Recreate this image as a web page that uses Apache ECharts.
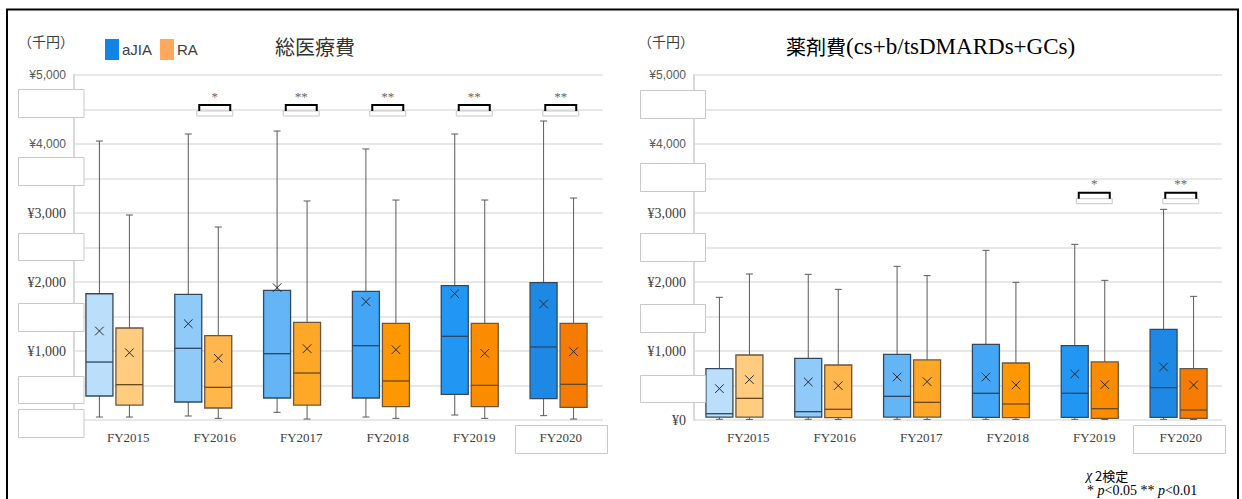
<!DOCTYPE html>
<html><head><meta charset="utf-8">
<script src="https://cdn.jsdelivr.net/npm/echarts@6.0.0/dist/echarts.min.js"></script>
<style>html,body{margin:0;padding:0;background:#fff}#c{width:1242px;height:499px}</style>
</head><body><div id="c"></div>
<script>
// ---------- data ----------
const categories = ['FY2015', 'FY2016', 'FY2017', 'FY2018', 'FY2019', 'FY2020'];
const seriesNames = ['aJIA', 'RA'];
// 総医療費 (千円): [min, Q1, median, Q3, max, mean]
const totalAJIA = [
  [43, 348, 840, 1830, 4043, 1290],
  [58, 261, 1039, 1821, 4145, 1396],
  [111, 319, 961, 1879, 4188, 1918],
  [43, 319, 1077, 1865, 3928, 1715],
  [72, 372, 1213, 1947, 4145, 1831],
  [63, 309, 1058, 1990, 4333, 1681]
];
const totalRA = [
  [43, 217, 512, 1333, 2971, 975],
  [24, 174, 473, 1222, 2797, 894],
  [14, 217, 681, 1415, 3174, 1034],
  [24, 193, 565, 1401, 3188, 1019],
  [24, 193, 502, 1401, 3188, 966],
  [14, 184, 517, 1401, 3217, 990]
];
// 薬剤費 (千円)
const drugAJIA = [
  [10, 43, 91, 744, 1778, 454],
  [10, 43, 121, 894, 2111, 551],
  [10, 43, 343, 952, 2227, 623],
  [10, 39, 387, 1097, 2459, 623],
  [10, 39, 387, 1077, 2546, 667],
  [10, 39, 469, 1314, 3053, 768]
];
const drugRA = [
  [8, 43, 314, 942, 2116, 585],
  [8, 34, 155, 797, 1894, 498],
  [8, 43, 256, 870, 2092, 556],
  [8, 34, 232, 826, 1995, 507],
  [8, 24, 164, 841, 2024, 512],
  [8, 24, 145, 744, 1792, 507]
];
const totalSig = ['', '*', '**', '**', '**', '**'];
const drugSig = ['', '', '', '', '*', '**'];
const yMin = 0, yMax = 5000, yStep = 500;

// ---------- styles ----------
const ajiaColors = ['#BBDEFB', '#90CAF9', '#64B5F6', '#42A5F5', '#2196F3', '#1E88E5'];
const raColors = ['#FFCC80', '#FFB74D', '#FFA726', '#FF9800', '#FB8C00', '#F57C00'];
const SERIF = '"Liberation Serif", "DejaVu Serif", serif';
const SANS = '"Liberation Sans", Arial, sans-serif';
const CJK = '"Noto Sans CJK JP", "Noto Sans", sans-serif';

function boxRenderer(colors, border, medianColor, side) {
  return function (params, api) {
    const i = api.value(0);
    const x = api.coord([i, 0])[0] + side * 15;
    const Y = v => api.coord([i, v])[1];
    const yLo = Y(api.value(1)), yQ1 = Y(api.value(2)), yMed = Y(api.value(3)),
          yQ3 = Y(api.value(4)), yHi = Y(api.value(5)), yMean = Y(api.value(6));
    const hw = 13.5, cap = 3.5, m = 4.3;
    const ws = { stroke: '#5a5a5a', lineWidth: 1 };
    return { type: 'group', children: [
      { type: 'line', shape: { x1: x, y1: yHi, x2: x, y2: yQ3 }, style: ws },
      { type: 'line', shape: { x1: x, y1: yQ1, x2: x, y2: yLo }, style: ws },
      { type: 'line', shape: { x1: x - cap, y1: yHi, x2: x + cap, y2: yHi }, style: ws },
      { type: 'line', shape: { x1: x - cap, y1: yLo, x2: x + cap, y2: yLo }, style: ws },
      { type: 'rect', shape: { x: x - hw, y: yQ3, width: 2 * hw, height: yQ1 - yQ3 },
        style: { fill: colors[params.dataIndex], stroke: border, lineWidth: 1.3 } },
      { type: 'line', shape: { x1: x - hw, y1: yMed, x2: x + hw, y2: yMed }, style: { stroke: medianColor, lineWidth: 1.3 } },
      { type: 'line', shape: { x1: x - m, y1: yMean - m, x2: x + m, y2: yMean + m }, style: { stroke: '#2b2b2b', lineWidth: 1 } },
      { type: 'line', shape: { x1: x - m, y1: yMean + m, x2: x + m, y2: yMean - m }, style: { stroke: '#2b2b2b', lineWidth: 1 } }
    ] };
  };
}

function bracketRenderer(sig) {
  return function (params, api) {
    const i = api.value(0);
    const c = api.coord([i, api.value(1)]);
    const x = c[0], y = c[1], hw = 15.5;
    return { type: 'group', children: [
      { type: 'rect', shape: { x: x - 18, y: y + 6, width: 36, height: 5 }, style: { fill: '#fff', stroke: '#c8c8c8', lineWidth: 1 } },
      { type: 'polyline', shape: { points: [[x - hw, y + 6], [x - hw, y], [x + hw, y], [x + hw, y + 6]] },
        style: { fill: 'none', stroke: '#000', lineWidth: 2 } },
      { type: 'text', style: { text: sig[i], x: x, y: y - 9, align: 'center', verticalAlign: 'middle',
        font: '13px ' + SERIF, fill: '#666666' } }
    ] };
  };
}

function toBoxData(arr) { return arr.map((d, i) => [i].concat(d)); }
function toSigData(sig, level) {
  const out = [];
  sig.forEach((s, i) => { if (s) out.push([i, level]); });
  return out;
}

const panelX = [0, 620];
const grids = [], xAxes = [], yAxes = [], series = [];
const panelData = [
  { a: totalAJIA, r: totalRA, sig: totalSig, level: 4565, showZero: false },
  { a: drugAJIA, r: drugRA, sig: drugSig, level: 3294, showZero: true }
];
panelData.forEach((p, k) => {
  const ox = panelX[k];
  const gAxis = grids.length;
  grids.push({ left: 74 + ox, top: 75, width: 529 - k, height: 345 });   // axis & gridlines
  grids.push({ left: 70 + ox, top: 75, width: 533, height: 345 });       // boxes
  grids.push({ left: 85 + ox, top: 75, width: 519, height: 345 });       // labels & brackets
  // axis grid: serif labels (¥0–¥3,000) + sans labels (¥4,000, ¥5,000)
  xAxes.push({ gridIndex: gAxis, type: 'category', data: categories, show: false });
  yAxes.push({ gridIndex: gAxis, type: 'value', position: 'left', min: yMin, max: yMax, interval: yStep,
    axisLine: { show: true, lineStyle: { color: '#d9d9d9', width: 2 } }, axisTick: { show: false },
    splitLine: { show: true, lineStyle: { color: '#e0e0e0', width: 1.5 } },
    axisLabel: { margin: 8, fontFamily: SERIF, fontSize: 14, color: '#404040',
      formatter: v => (v % 1000 === 0 && v < 4000 && (v > 0 || p.showZero)) ? '¥' + v.toLocaleString('en-US') : '' } });
  yAxes.push({ gridIndex: gAxis, type: 'value', position: 'left', offset: 0, min: yMin, max: yMax, interval: yStep,
    axisLine: { show: false }, axisTick: { show: false }, splitLine: { show: false },
    axisLabel: { margin: 8, fontFamily: SANS, fontSize: 12, color: '#595959',
      formatter: v => (v % 1000 === 0 && v >= 4000) ? '¥' + v.toLocaleString('en-US') : '' } });
  // boxes grid
  const xBox = xAxes.length, yBox = yAxes.length;
  xAxes.push({ gridIndex: gAxis + 1, type: 'category', data: categories, show: false });
  yAxes.push({ gridIndex: gAxis + 1, type: 'value', min: yMin, max: yMax, show: false, splitLine: { show: false } });
  // labels grid
  const xLab = xAxes.length, yLab = yAxes.length;
  xAxes.push({ gridIndex: gAxis + 2, type: 'category', data: categories,
    axisLine: { show: false }, axisTick: { show: false },
    axisLabel: { margin: 11, fontFamily: SERIF, fontSize: 13, color: '#404040' } });
  yAxes.push({ gridIndex: gAxis + 2, type: 'value', min: yMin, max: yMax, show: false, splitLine: { show: false } });

  series.push({ name: seriesNames[0], type: 'custom', xAxisIndex: xBox, yAxisIndex: yBox, clip: false,
    itemStyle: { color: '#1483E6' }, encode: { x: 0, y: [1, 2, 3, 4, 5, 6] },
    renderItem: boxRenderer(ajiaColors, '#34495e', '#2c4560', -1), data: toBoxData(p.a), z: 3 });
  series.push({ name: seriesNames[1], type: 'custom', xAxisIndex: xBox, yAxisIndex: yBox, clip: false,
    itemStyle: { color: '#FFA95E' }, encode: { x: 0, y: [1, 2, 3, 4, 5, 6] },
    renderItem: boxRenderer(raColors, '#6b5640', '#6a4a20', 1), data: toBoxData(p.r), z: 3 });
  series.push({ name: 'sig' + k, type: 'custom', xAxisIndex: xLab, yAxisIndex: yLab, clip: false,
    itemStyle: { color: '#666666' },
    encode: { x: 0, y: 1 }, renderItem: bracketRenderer(p.sig), data: toSigData(p.sig, p.level), z: 4 });
});

// overlay graphics (masking boxes, frames, titles, notes)
const maskStyle = { fill: '#fff', stroke: '#c9c9c9', lineWidth: 1 };
const graphics = [
  { type: 'rect', shape: { x: 7, y: 9.5, width: 1231, height: 520 }, style: { fill: 'none', stroke: '#000', lineWidth: 2 }, z: 200 }
];
[[89, 117], [157, 185], [233, 260], [303, 331], [376, 403], [409, 437]].forEach(r =>
  graphics.push({ type: 'rect', shape: { x: 18.5, y: r[0] + 0.5, width: 65.5, height: r[1] - r[0] }, style: maskStyle, z: 150 }));
[[90, 118], [163, 191], [233, 261], [304, 332], [375, 402]].forEach(r =>
  graphics.push({ type: 'rect', shape: { x: 640.5, y: r[0] + 0.5, width: 65, height: r[1] - r[0] }, style: maskStyle, z: 150 }));
graphics.push({ type: 'rect', shape: { x: 515.5, y: 425.5, width: 92, height: 28 }, style: { fill: 'none', stroke: '#c9c9c9', lineWidth: 1 }, z: 150 });
graphics.push({ type: 'rect', shape: { x: 1133.5, y: 425.5, width: 92, height: 28 }, style: { fill: 'none', stroke: '#c9c9c9', lineWidth: 1 }, z: 150 });
graphics.push({ type: 'text', x: 18, y: 41, style: { text: '（千円）', font: '14px ' + CJK, fill: '#404040', verticalAlign: 'middle' }, z: 150 });
graphics.push({ type: 'text', x: 638, y: 41, style: { text: '（千円）', font: '14px ' + CJK, fill: '#404040', verticalAlign: 'middle' }, z: 150 });
graphics.push({ type: 'text', x: 275, y: 46, style: { text: '総医療費', font: '20px ' + CJK, fill: '#333', verticalAlign: 'middle' }, z: 150 });
graphics.push({ type: 'text', x: 786, y: 46, style: { text: '{c|薬剤費}{l|(cs+b/tsDMARDs+GCs)}', verticalAlign: 'middle',
  rich: { c: { fontFamily: CJK, fontSize: 20, color: '#333' }, l: { fontFamily: SERIF, fontSize: 23, color: '#333' } } }, z: 150 });
graphics.push({ type: 'text', x: 1086, y: 475, style: { text: '{i|χ}{n| 2検定}', verticalAlign: 'middle',
  rich: { i: { fontFamily: SERIF, fontSize: 14, fontStyle: 'italic', color: '#333' }, n: { fontFamily: CJK, fontSize: 13, color: '#333' } } }, z: 150 });
graphics.push({ type: 'text', x: 1087, y: 490, style: { text: '{n|* }{i|p}{n|<0.05 ** }{i|p}{n|<0.01}', verticalAlign: 'middle',
  rich: { i: { fontFamily: SERIF, fontSize: 14, fontStyle: 'italic', color: '#333' }, n: { fontFamily: SERIF, fontSize: 14, color: '#333' } } }, z: 150 });

const chart = echarts.init(document.getElementById('c'), null, { renderer: 'svg', width: 1242, height: 499 });
chart.setOption({
  animation: false,
  backgroundColor: '#fff',
  grid: grids,
  xAxis: xAxes,
  yAxis: yAxes,
  legend: { data: seriesNames, left: 105, top: 39, padding: 0, itemWidth: 14, itemHeight: 21, itemGap: 8, icon: 'rect',
    selectedMode: false, textStyle: { fontFamily: SANS, fontSize: 15, color: '#404040', padding: [0, 0, 0, -2] } },
  series: series,
  graphic: graphics
});
</script></body></html>
